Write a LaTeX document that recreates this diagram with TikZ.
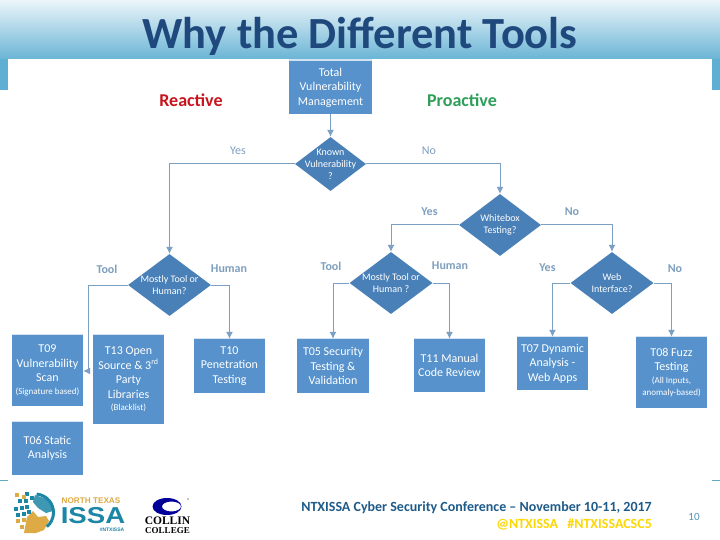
\documentclass[tikz,border=0pt]{standalone}
\usepackage{fontspec}
\setmainfont{Carlito}
\newfontfamily\logofont{Liberation Sans}
\newfontfamily\collinfont{Liberation Serif}
\usepackage{tikz}
\usetikzlibrary{arrows.meta,shapes.geometric,shadows}
\definecolor{boxblue}{HTML}{5792CC}
\definecolor{diablue}{HTML}{4A80B8}
\definecolor{linkblue}{HTML}{7C9FC4}
\definecolor{lblblue}{HTML}{7F9FBE}
\definecolor{headblue}{HTML}{1F497D}
\definecolor{barblue}{HTML}{5FAFD2}
\definecolor{issateal}{HTML}{1C86A6}
\definecolor{issagold}{HTML}{DDAA45}
\definecolor{reactred}{HTML}{C8141E}
\definecolor{proactgreen}{HTML}{2E9E5B}
\newcommand{\smallnote}[1]{{\fontsize{9}{10}\selectfont #1}}
\tikzset{
  tool/.style={
    shape = rectangle,
    fill = boxblue,
    text = white,
    inner sep = 0pt,
    align = center,
    font = \fontsize{12}{14.5}\selectfont,
    drop shadow={shadow xshift=0pt,shadow yshift=1.5pt,opacity=.25,fill=boxblue}
  },
  decision/.style={
    shape = diamond,
    fill = diablue,
    inner sep = 0pt,
    shape aspect = 1
  },
  dtext/.style={
    text = white,
    inner sep = 0pt,
    align = center,
    font = \fontsize{10}{12}\selectfont
  },
  lbl/.style={
    text = lblblue,
    inner sep = 0pt,
    font = \fontsize{12}{14}\selectfont
  },
  branch/.style={
    lbl,
    font = \bfseries\fontsize{12}{14}\selectfont
  },
  link/.style={
    draw = linkblue,
    line width = 1pt,
    -{Latex[length=7pt,width=7pt]}
  },
  side/.style={
    inner sep = 0pt,
    font = \bfseries\fontsize{18}{20}\selectfont
  },
  foot/.style={
    inner sep = 0pt,
    anchor = east,
    font = \bfseries\fontsize{14}{16}\selectfont
  }
}
\begin{document}
\begin{tikzpicture}[x=1pt,y=-1pt]
  \useasboundingbox (0,0) rectangle (720,540);
  \fill[white] (0,0) rectangle (720,540);

  % header band
  \fill[top color=barblue!12!white, bottom color=barblue] (0,0) rectangle (720,64);
  \fill[barblue] (0,59) rectangle (8,90);
  \fill[barblue] (712,59) rectangle (720,90);
  \fill[white] (8,59) rectangle (712,92);
  \fill[issateal!70!white] (0,479.5) rectangle (8,481);
  \fill[issateal!70!white] (712,479.5) rectangle (720,481);

  \node[inner sep=0pt, text=headblue, font=\bfseries\fontsize{44.5}{46}\selectfont] (title) at (360,36) {Why the Different Tools};

  \node[side, text=reactred] (reactive) at (191,100) {Reactive};
  \node[side, text=proactgreen] (proactive) at (462,100) {Proactive};

  % decisions
  \node[tool, minimum width=83pt, minimum height=53pt] (total) at (330.5,87.5) {Total\\Vulnerability\\Management};
  \node[decision, minimum width=71pt, minimum height=54pt] (known) at (330.5,164) {};
  \node[dtext] (knowntxt) at (known) {Known\\Vulnerability\\?};
  \node[decision, minimum width=82pt, minimum height=62pt] (white) at (500,225) {};
  \node[dtext] (whitetxt) at (white) {Whitebox\\Testing?};
  \node[decision, minimum width=83pt, minimum height=62pt] (mostA) at (169.5,285) {};
  \node[dtext] (mostAtxt) at (mostA) {Mostly Tool or\\Human?};
  \node[decision, minimum width=83pt, minimum height=62pt] (mostB) at (391,283) {};
  \node[dtext] (mostBtxt) at (mostB) {Mostly Tool or\\Human ?};
  \node[decision, minimum width=83pt, minimum height=62pt] (web) at (612,283) {};
  \node[dtext] (webtxt) at (web) {Web\\Interface?};

  % tools
  \node[tool, minimum width=71pt, minimum height=71pt] (tnine) at (47.5,370.5) {T09\\Vulnerability\\Scan\\[-2pt]\smallnote{(Signature based)}};
  \node[tool, minimum width=71pt, minimum height=89pt] (tthirteen) at (128.5,379.5) {T13 Open\\Source \& 3\textsuperscript{rd}\\Party\\Libraries\\[-2pt]\smallnote{(Blacklist)}};
  \node[tool, minimum width=71pt, minimum height=54pt] (tten) at (229.5,366) {T10\\Penetration\\Testing};
  \node[tool, minimum width=72pt, minimum height=54pt] (tfive) at (333,366) {T05 Security\\Testing \&\\Validation};
  \node[tool, minimum width=71pt, minimum height=53pt] (televen) at (449.5,365.5) {T11 Manual\\Code Review};
  \node[tool, minimum width=71pt, minimum height=53pt] (tseven) at (552.5,363.5) {T07 Dynamic\\Analysis -\\Web Apps};
  \node[tool, minimum width=71pt, minimum height=71pt] (teight) at (671.5,372.5) {T08 Fuzz\\Testing\\[-2pt]\smallnote{(All Inputs,}\\[-2pt]\smallnote{anomaly-based)}};
  \node[tool, minimum width=71pt, minimum height=53pt] (tsix) at (47.5,448.5) {T06 Static\\Analysis};

  % connectors
  \coordinate (bend) at (88,371);
  \draw[link] (total) -- (known);
  \draw[link] (known.west) -| (mostA.north);
  \draw[link] (known.east) -| (white.north);
  \draw[link] (white.west) -| (mostB.north);
  \draw[link] (white.east) -| (web.north);
  \draw[link] (mostA.east) -| (tten.north);
  \draw[link] (mostA.west) -| (bend) -- (tnine.east |- bend);
  \draw[link] (mostB.west) -| (tfive.north);
  \draw[link] (mostB.east) -| (televen.north);
  \draw[link] (web.west) -| (tseven.north);
  \draw[link] (web.east) -| (teight.north);

  % labels
  \node[lbl] (yesA) at (238,150.5) {Yes};
  \node[lbl] (noA) at (429,150.5) {No};
  \node[branch] (yesB) at (429.5,212) {Yes};
  \node[branch] (noB) at (572,212) {No};
  \node[branch] (toolA) at (107,269) {Tool};
  \node[branch] (humanA) at (229,269) {Human};
  \node[branch] (toolB) at (331,266) {Tool};
  \node[branch] (humanB) at (450,266) {Human};
  \node[branch] (yesC) at (547.5,268) {Yes};
  \node[branch] (noC) at (675,269) {No};

  % footer
  \node[foot, text=headblue!70!issateal] (conf) at (652,508) {NTXISSA Cyber Security Conference -- November 10-11, 2017};
  \node[foot, text=yellow!75!orange] (tags) at (652,525) {@NTXISSA\hspace{6pt} \#NTXISSACSC5};
  \node[inner sep=0pt, text=barblue!85!black, font=\fontsize{11}{13}\selectfont] (page) at (694,517) {10};

  % issa logo
  \fill[issateal!85!white] (35,495) -- (50,500) -- (53,511) -- (46,513) -- (38,508) -- (33,502) -- cycle;
  \fill[issagold] (24,533) -- (27,517) -- (33,511) -- (38,517) -- (46,516) -- (49,521) -- (44,530) -- (36,533) -- cycle;
  \draw[issateal, line width=3pt] (35,512.5) ++(-85:18.5) arc[start angle=-85, end angle=50, radius=18.5];
  \foreach \px/\py in {27/494,32/498,20/501,26/501,16/509,22/508,27/507,18/515,24/514,29/512}
    \fill[issateal] (\px-2,\py-2) rectangle ++(4,4);
  \foreach \px/\py in {17/495,24/497,18/521,24/520,22/527}
    \fill[issagold] (\px-2,\py-2) rectangle ++(4,4);
  \node[inner sep=0pt, text=issagold, font=\logofont\bfseries\fontsize{8.2}{9}\selectfont] (issatop) at (91,501) {NORTH TEXAS};
  \node[inner sep=0pt, text=issateal, font=\logofont\bfseries\fontsize{23}{23}\selectfont, xscale=1.2] (issa) at (93,515.5) {ISSA};
  \node[inner sep=0pt, text=issateal, font=\logofont\bfseries\fontsize{5}{5}\selectfont] (issatag) at (112,529.5) {\#NTXISSA};

  % collin logo
  \fill[blue!60!black, even odd rule] (167,506.5) ellipse [x radius=14.5, y radius=8.5] (171.5,506.5) ellipse [x radius=9.5, y radius=5];
  \fill[black] (188,499) circle (0.6);
  \node[inner sep=0pt, text=black, font=\collinfont\bfseries\fontsize{11.5}{12}\selectfont] (collin) at (167.5,521) {COLLIN};
  \node[inner sep=0pt, text=black, font=\collinfont\bfseries\fontsize{9}{10}\selectfont] (college) at (167.5,531) {COLLEGE};
\end{tikzpicture}
\end{document}
